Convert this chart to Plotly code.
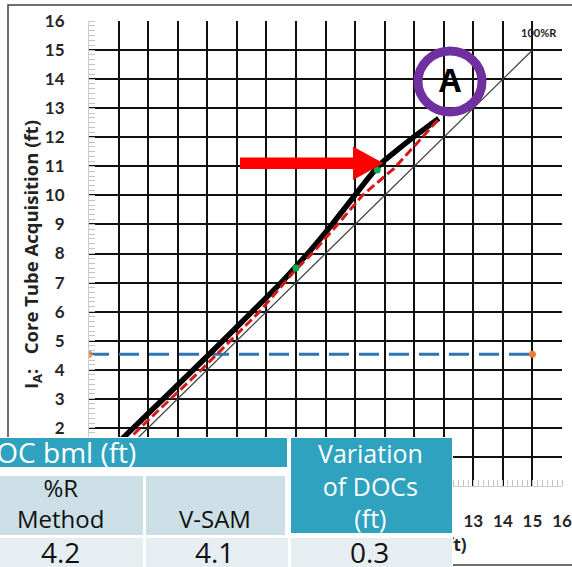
import plotly.graph_objects as go

# ---------------- data ----------------
tick_vals = list(range(1, 17))
tick_text = [str(v) for v in tick_vals]

vsam_x = [0.9, 1.5, 2.52, 3.53, 4.53, 5.52, 6.5, 7.0, 7.4, 8.22, 9.03, 9.45, 9.88, 10.35, 11.0, 11.83]
vsam_y = [1.4, 2.0, 3.0, 4.0, 5.0, 6.0, 7.0, 7.55, 8.0, 9.0, 10.05, 10.6, 11.1, 11.5, 12.02, 12.65]

pr_x = [1.2, 1.73, 3.8, 5.77, 7.0, 7.55, 8.41, 9.25, 9.59, 10.32, 11.1, 11.85]
pr_y = [1.45, 2.0, 4.0, 6.0, 7.45, 8.0, 9.0, 10.0, 10.3, 10.93, 11.8, 12.65]

one_x = [0, 15]
one_y = [0, 15]

green_x = [7.0, 9.75]
green_y = [7.5, 10.87]

doc_x = [0, 15]
doc_y = [4.53, 4.53]

x_title = "D<sub>P</sub>: Core Tube Penetration (ft)"
y_title = "I<sub>A</sub>:&nbsp;&nbsp;&nbsp;Core Tube Acquisition (ft)"
table_header = "DOC bml (ft)"
col_pr = "%R<br>Method"
col_vsam = "V-SAM"
col_var = "Variation<br>of DOCs<br>(ft)"
val_pr = "4.2"
val_vsam = "4.1"
val_var = "0.3"

# ---------------- geometry helpers (pixels -> paper) ----------------
W, H = 572, 567
L, R, T, B = 89, 562, 21, 486


def xp(p):
    return (p - L) / (R - L)


def yp(p):
    return (B - p) / (B - T)


TEAL = "#2EA2BF"
LIGHT = "#CDDFE6"
LIGHTER = "#E6EEF1"

fig = go.Figure()

fig.add_trace(go.Scatter(x=one_x, y=one_y, mode="lines",
                         line=dict(color="#444444", width=1.3), hoverinfo="skip"))
fig.add_trace(go.Scatter(x=doc_x, y=doc_y, mode="lines+markers",
                         line=dict(color="#2E75B6", width=3, dash="20px,10px"),
                         marker=dict(color="#ED7D31", size=7), hoverinfo="skip"))
fig.add_trace(go.Scatter(x=vsam_x, y=vsam_y, mode="lines",
                         line=dict(color="black", width=5.5, shape="spline", smoothing=0.6),
                         hoverinfo="skip"))
fig.add_trace(go.Scatter(x=pr_x, y=pr_y, mode="lines",
                         line=dict(color="#D81818", width=3, dash="9px,4px"),
                         hoverinfo="skip"))
fig.add_trace(go.Scatter(x=green_x, y=green_y, mode="markers",
                         marker=dict(color="#00B050", size=7), hoverinfo="skip"))

axis_common = dict(
    range=[0, 16],
    tickmode="array",
    tickvals=tick_vals,
    ticktext=tick_text,
    ticks="",
    showgrid=True,
    gridcolor="#111111",
    gridwidth=1.6,
    zeroline=False,
    showline=True,
    linecolor="#cccccc",
    linewidth=1,
    automargin=False,
    tickfont=dict(family="Lato", size=17, color="#262626", weight="bold"),
    minor=dict(ticks="inside", ticklen=6, tickcolor="#c4c4c4", tickwidth=1,
               tick0=0, dtick=1 / 6, showgrid=False),
    fixedrange=True,
)

fig.update_xaxes(**axis_common, ticklabelstandoff=20)
fig.update_yaxes(**axis_common, ticklabelstandoff=20)

shapes = []
# outer chart frame
shapes.append(dict(type="rect", xref="paper", yref="paper",
                   x0=xp(8), x1=xp(590), y0=yp(5), y1=yp(565),
                   line=dict(color="#404040", width=1.5), layer="above"))
# red arrow
arrow_pts = [(240, 157.5), (353, 157.5), (353, 146.5), (383.5, 163.3),
             (353, 180), (353, 169), (240, 169)]
path = "M " + " L ".join(f"{xp(a):.5f},{yp(b):.5f}" for a, b in arrow_pts) + " Z"
shapes.append(dict(type="path", xref="paper", yref="paper", path=path,
                   fillcolor="#FF0000", line=dict(width=0), layer="above"))
# purple circle
shapes.append(dict(type="circle", xref="paper", yref="paper",
                   x0=xp(450 - 32), x1=xp(450 + 32), y0=yp(81.5 + 30.5), y1=yp(81.5 - 30.5),
                   line=dict(color="#7030A0", width=9), layer="above"))

fig.update_layout(shapes=shapes)

ann = []


def text(x, y, s, size, color, xanchor="center", family="Open Sans", weight="normal", angle=0):
    ann.append(dict(xref="paper", yref="paper", x=xp(x), y=yp(y), text=s,
                    showarrow=False, xanchor=xanchor, yanchor="middle",
                    textangle=angle,
                    font=dict(family=family, size=size, color=color, weight=weight)))


def box(x0, x1, y0, y1, color):
    ann.append(dict(xref="paper", yref="paper", x=xp(x0), y=yp(y0), text=" ",
                    showarrow=False, xanchor="left", yanchor="top",
                    width=x1 - x0, height=y1 - y0, bgcolor=color,
                    borderpad=0, borderwidth=0, font=dict(size=1)))


# axis titles (x title first so the table boxes cover most of it)
text(469, 545, x_title, 17, "#222222", xanchor="right", weight="bold")
text(32, 255, y_title, 18.5, "#222222", weight="bold", angle=-90)

# table (drawn as annotation boxes so it lies above the x title)
box(-30, 453, 437, 580, "white")
box(-30, 287, 438, 467, TEAL)
box(291, 452, 438, 533, TEAL)
box(-30, 143, 476, 535, LIGHT)
box(146, 285, 476, 535, LIGHT)
box(-30, 143, 538, 580, LIGHTER)
box(146, 288, 538, 580, LIGHTER)
box(291, 452, 538, 580, LIGHTER)

text(138, 452, table_header, 28, "white", xanchor="right")
text(60, 503, col_pr, 24, "#111111")
text(215, 518, col_vsam, 24, "#111111")
text(370, 485, col_var, 25, "white")
text(60, 552, val_pr, 28, "#111111")
text(214, 552, val_vsam, 28, "#111111")
text(369, 552, val_var, 28, "#111111")

# other labels
text(450, 80, "A", 32, "black", weight="bold")
text(539, 33, "100%R", 11, "#222222", family="Lato", weight="bold")

fig.update_layout(
    annotations=ann,
    width=W, height=H,
    margin=dict(l=L, r=W - R, t=T, b=H - B, pad=0),
    paper_bgcolor="white",
    plot_bgcolor="white",
    showlegend=False,
)

fig.write_html("out.html",
               config={"displayModeBar": False},
               post_script="document.body.style.margin='0px';document.body.style.overflow='hidden';")
